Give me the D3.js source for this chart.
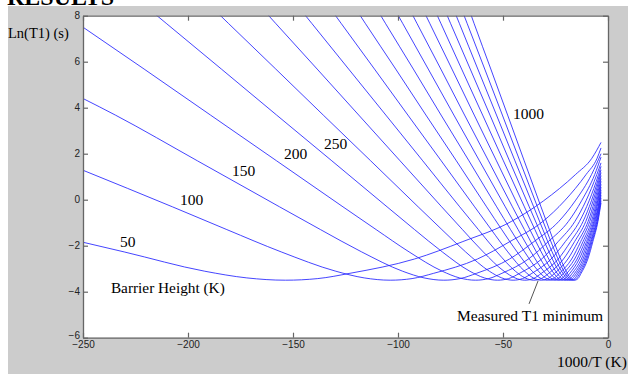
<!DOCTYPE html>
<html><head><meta charset="utf-8">
<script src="https://cdn.jsdelivr.net/npm/d3@7"></script>
<style>body{margin:0;background:#fff}svg{display:block}</style>
</head><body>
<svg id="c" width="628" height="374"></svg>
<script>
// ---- data ----
const xTicks = [-250, -200, -150, -100, -50, 0];
const yTicks = [-6, -4, -2, 0, 2, 4, 6, 8];
const barrierHeights = [50,103,156,208,261,314,367,419,472,525,578,631,683,736,789,842,894,947,1000];
const curveLabels = [
  {text:"50",   x:-232.4, y:-2.06},
  {text:"100",  x:-203.8, y:-0.23},
  {text:"150",  x:-179.0, y:1.03},
  {text:"200",  x:-154.3, y:1.77},
  {text:"250",  x:-135.2, y:2.2},
  {text:"1000", x:-45.2,  y:3.5}
];
const c050 = [[-250,-1.85],[-230.4,-2.27],[-192.0,-3.11],[-172.0,-3.40],[-153.6,-3.5],[-138.2,-3.43],[-122.9,-3.2],[-92.2,-2.58],[-69.1,-1.82],[-46.1,-0.95],[-30.7,-0.05],[-15.4,1.1],[-7.7,1.8],[-3.33,2.49]];
const c103 = [[-250,1.28],[-207.4,-0.31],[-181.5,-1.30],[-155.6,-2.27],[-129.6,-3.11],[-116.1,-3.40],[-103.7,-3.5],[-93.3,-3.43],[-83.0,-3.2],[-62.2,-2.58],[-46.7,-1.82],[-31.1,-0.95],[-20.7,-0.05],[-10.4,1.1],[-5.2,1.8],[-3.33,2.25]];
const c156 = [[-250,4.4],[-234.6,3.68],[-195.5,1.69],[-156.4,-0.31],[-136.9,-1.30],[-117.3,-2.27],[-97.8,-3.11],[-87.6,-3.40],[-78.2,-3.5],[-70.4,-3.43],[-62.6,-3.2],[-46.9,-2.58],[-35.2,-1.82],[-23.5,-0.95],[-15.6,-0.05],[-7.8,1.1],[-3.33,2.0]];
const c208 = [[-250,7.5],[-220.9,5.68],[-189.3,3.68],[-157.8,1.69],[-126.2,-0.31],[-110.4,-1.30],[-94.7,-2.27],[-78.9,-3.11],[-70.7,-3.40],[-63.1,-3.5],[-56.8,-3.43],[-50.5,-3.2],[-37.9,-2.58],[-28.4,-1.82],[-18.9,-0.95],[-12.6,-0.05],[-6.3,1.1],[-3.33,1.85]];
const c261 = [[-226.2,8.87],[-210.4,7.67],[-184.1,5.68],[-157.8,3.68],[-131.5,1.69],[-105.2,-0.31],[-92.1,-1.30],[-78.9,-2.27],[-65.8,-3.11],[-58.9,-3.40],[-52.6,-3.5],[-47.3,-3.43],[-42.1,-3.2],[-31.6,-2.58],[-23.7,-1.82],[-15.8,-0.95],[-10.5,-0.05],[-5.3,1.1],[-3.33,1.6]];
const c314 = [[-194.3,8.87],[-180.8,7.67],[-158.2,5.68],[-135.6,3.68],[-113.0,1.69],[-90.4,-0.31],[-79.1,-1.30],[-67.8,-2.27],[-56.5,-3.11],[-50.6,-3.40],[-45.2,-3.5],[-40.7,-3.43],[-36.2,-3.2],[-27.1,-2.58],[-20.3,-1.82],[-13.6,-0.95],[-9.0,-0.05],[-4.5,1.1],[-3.33,1.45]];
const c367 = [[-170.2,8.87],[-158.3,7.67],[-138.5,5.68],[-118.7,3.68],[-99.0,1.69],[-79.2,-0.31],[-69.3,-1.30],[-59.4,-2.27],[-49.5,-3.11],[-44.3,-3.40],[-39.6,-3.5],[-35.6,-3.43],[-31.7,-3.2],[-23.7,-2.58],[-17.8,-1.82],[-11.9,-0.95],[-7.9,-0.05],[-3.33,1.3]];
const c419 = [[-151.7,8.87],[-141.1,7.67],[-123.5,5.68],[-105.8,3.68],[-88.2,1.69],[-70.6,-0.31],[-61.7,-1.30],[-52.9,-2.27],[-44.1,-3.11],[-39.5,-3.40],[-35.3,-3.5],[-31.8,-3.43],[-28.2,-3.2],[-21.2,-2.58],[-15.9,-1.82],[-10.6,-0.95],[-7.1,-0.05],[-3.33,1.18]];
const c472 = [[-136.6,8.87],[-127.1,7.67],[-111.2,5.68],[-95.3,3.68],[-79.4,1.69],[-63.5,-0.31],[-55.6,-1.30],[-47.7,-2.27],[-39.7,-3.11],[-35.6,-3.40],[-31.8,-3.5],[-28.6,-3.43],[-25.4,-3.2],[-19.1,-2.58],[-14.3,-1.82],[-9.5,-0.95],[-6.4,-0.05],[-3.33,1.05]];
const c525 = [[-124.2,8.87],[-115.6,7.67],[-101.1,5.68],[-86.7,3.68],[-72.2,1.69],[-57.8,-0.31],[-50.6,-1.30],[-43.3,-2.27],[-36.1,-3.11],[-32.4,-3.40],[-28.9,-3.5],[-26.0,-3.43],[-23.1,-3.2],[-17.3,-2.58],[-13.0,-1.82],[-8.7,-0.95],[-5.8,-0.05],[-3.33,0.92]];
const c578 = [[-113.9,8.87],[-106.0,7.67],[-92.7,5.68],[-79.5,3.68],[-66.2,1.69],[-53.0,-0.31],[-46.4,-1.30],[-39.7,-2.27],[-33.1,-3.11],[-29.7,-3.40],[-26.5,-3.5],[-23.8,-3.43],[-21.2,-3.2],[-15.9,-2.58],[-11.9,-1.82],[-7.9,-0.95],[-5.3,-0.05],[-3.33,0.8]];
const c631 = [[-105.2,8.87],[-97.8,7.67],[-85.6,5.68],[-73.4,3.68],[-61.2,1.69],[-48.9,-0.31],[-42.8,-1.30],[-36.7,-2.27],[-30.6,-3.11],[-27.4,-3.40],[-24.5,-3.5],[-22.0,-3.43],[-19.6,-3.2],[-14.7,-2.58],[-11.0,-1.82],[-7.3,-0.95],[-4.9,-0.05],[-3.33,0.67]];
const c683 = [[-97.8,8.87],[-91.0,7.67],[-79.6,5.68],[-68.3,3.68],[-56.9,1.69],[-45.5,-0.31],[-39.8,-1.30],[-34.1,-2.27],[-28.4,-3.11],[-25.5,-3.40],[-22.8,-3.5],[-20.5,-3.43],[-18.2,-3.2],[-13.7,-2.58],[-10.2,-1.82],[-6.8,-0.95],[-4.6,-0.05],[-3.33,0.55]];
const c736 = [[-91.3,8.87],[-84.9,7.67],[-74.3,5.68],[-63.7,3.68],[-53.1,1.69],[-42.5,-0.31],[-37.2,-1.30],[-31.8,-2.27],[-26.5,-3.11],[-23.8,-3.40],[-21.2,-3.5],[-19.1,-3.43],[-17.0,-3.2],[-12.7,-2.58],[-9.6,-1.82],[-6.4,-0.95],[-4.2,-0.05],[-3.33,0.43]];
const c789 = [[-85.6,8.87],[-79.6,7.67],[-69.7,5.68],[-59.7,3.68],[-49.8,1.69],[-39.8,-0.31],[-34.8,-1.30],[-29.9,-2.27],[-24.9,-3.11],[-22.3,-3.40],[-19.9,-3.5],[-17.9,-3.43],[-15.9,-3.2],[-11.9,-2.58],[-9.0,-1.82],[-6.0,-0.95],[-4.0,-0.05],[-3.33,0.32]];
const c842 = [[-80.6,8.87],[-75.0,7.67],[-65.6,5.68],[-56.2,3.68],[-46.9,1.69],[-37.5,-0.31],[-32.8,-1.30],[-28.1,-2.27],[-23.4,-3.11],[-21.0,-3.40],[-18.7,-3.5],[-16.9,-3.43],[-15.0,-3.2],[-11.2,-2.58],[-8.4,-1.82],[-5.6,-0.95],[-3.33,0.2]];
const c894 = [[-76.2,8.87],[-70.8,7.67],[-62.0,5.68],[-53.1,3.68],[-44.3,1.69],[-35.4,-0.31],[-31.0,-1.30],[-26.6,-2.27],[-22.1,-3.11],[-19.8,-3.40],[-17.7,-3.5],[-15.9,-3.43],[-14.2,-3.2],[-10.6,-2.58],[-8.0,-1.82],[-5.3,-0.95],[-3.33,0.08]];
const c947 = [[-72.2,8.87],[-67.1,7.67],[-58.7,5.68],[-50.3,3.68],[-42.0,1.69],[-33.6,-0.31],[-29.4,-1.30],[-25.2,-2.27],[-21.0,-3.11],[-18.8,-3.40],[-16.8,-3.5],[-15.1,-3.43],[-13.4,-3.2],[-10.1,-2.58],[-7.6,-1.82],[-5.0,-0.95],[-3.33,-0.04]];
const c1000 = [[-68.5,8.87],[-63.8,7.67],[-55.8,5.68],[-47.8,3.68],[-39.9,1.69],[-31.9,-0.31],[-27.9,-1.30],[-23.9,-2.27],[-19.9,-3.11],[-17.9,-3.40],[-15.9,-3.5],[-14.3,-3.43],[-12.8,-3.2],[-9.6,-2.58],[-7.2,-1.82],[-4.8,-0.95],[-3.33,-0.14]];
const curves = [c050,c103,c156,c208,c261,c314,c367,c419,c472,c525,c578,c631,c683,c736,c789,c842,c894,c947,c1000];
const pointer = [[-33.3,-3.53],[-37.6,-4.53]];

// ---- drawing ----
const W = 628, H = 374;
const svg = d3.select('#c');
const serif = '"Liberation Serif","Times New Roman",serif';
const sans = '"Liberation Sans",Arial,sans-serif';

svg.append('rect').attr('x',8).attr('y',6).attr('width',W-8).attr('height',H-6).attr('fill','#cccccc');
svg.append('text').attr('x',7).attr('y',5).attr('font-family',serif).attr('font-weight','bold')
  .attr('font-size',24).attr('fill','#000').text('RESULTS');

const x = d3.scaleLinear().domain([-250,0]).range([83,608]);
const y = d3.scaleLinear().domain([-6,8]).range([337.7,15.7]);

svg.append('rect').attr('x',x(-250)).attr('y',y(8)).attr('width',x(0)-x(-250)).attr('height',y(-6)-y(8)).attr('fill','#fff');

svg.append('clipPath').attr('id','pc').append('rect')
  .attr('x',x(-250)).attr('y',y(8)).attr('width',x(0)-x(-250)).attr('height',y(-6)-y(8));

const line = d3.line().x(d=>x(d[0])).y(d=>y(d[1])).curve(d3.curveMonotoneX);
svg.append('g').attr('clip-path','url(#pc)').selectAll('path').data(curves).join('path')
  .attr('d',line).attr('fill','none').attr('stroke','#2424ff').attr('stroke-width',0.85);

function styleAxis(g){
  g.selectAll('.domain').attr('stroke','#666').attr('stroke-width',1.3);
  g.selectAll('.tick line').attr('stroke','#666').attr('stroke-width',1.2);
  g.selectAll('.tick text').attr('font-family',sans).attr('font-size',10).attr('fill','#222');
}
const gb = svg.append('g').attr('transform',`translate(0,${y(-6)})`)
  .call(d3.axisBottom(x).tickValues(xTicks).tickSizeInner(-5).tickSizeOuter(0).tickPadding(3).tickFormat(d3.format('d')));
styleAxis(gb);
const gt = svg.append('g').attr('transform',`translate(0,${y(8)})`)
  .call(d3.axisTop(x).tickValues(xTicks).tickSizeInner(-5).tickSizeOuter(0).tickFormat(''));
styleAxis(gt);
const gl = svg.append('g').attr('transform',`translate(${x(-250)},0)`)
  .call(d3.axisLeft(y).tickValues(yTicks).tickSizeInner(-5).tickSizeOuter(0).tickPadding(3).tickFormat(d3.format('d')));
styleAxis(gl);
gl.selectAll('.tick text').filter(d=>d===-6).attr('dy','0.05em');
const gr = svg.append('g').attr('transform',`translate(${x(0)},0)`)
  .call(d3.axisRight(y).tickValues(yTicks).tickSizeInner(-5).tickSizeOuter(0).tickFormat(''));
styleAxis(gr);

// labels
svg.append('text').attr('x',8).attr('y',38).attr('font-family',serif).attr('font-size',14.5).text('Ln(T1) (s)');
svg.append('text').attr('x',557).attr('y',367).attr('font-family',serif).attr('font-size',15.5).text('1000/T (K)');
svg.append('text').attr('x',x(-236.7)).attr('y',y(-4.06)).attr('font-family',serif).attr('font-size',15.3).text('Barrier Height (K)');
svg.append('text').attr('x',x(-71.9)).attr('y',y(-5.27)).attr('font-family',serif).attr('font-size',15.5).text('Measured T1 minimum');
svg.selectAll('text.cl').data(curveLabels).join('text').attr('class','cl')
  .attr('x',d=>x(d.x)).attr('y',d=>y(d.y)).attr('font-family',serif).attr('font-size',15.5).text(d=>d.text);
svg.append('line').attr('x1',x(pointer[0][0])).attr('y1',y(pointer[0][1]))
  .attr('x2',x(pointer[1][0])).attr('y2',y(pointer[1][1])).attr('stroke','#555').attr('stroke-width',1);
</script>
</body></html>
